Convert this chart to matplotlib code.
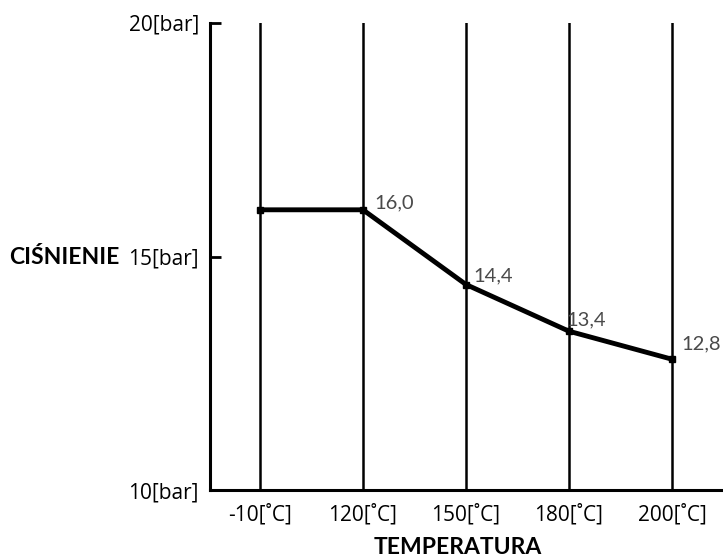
import matplotlib
matplotlib.use("Agg")
import matplotlib.pyplot as plt

categories = ["-10[˚C]", "120[˚C]", "150[˚C]", "180[˚C]", "200[˚C]"]
pressure = [16.0, 16.0, 14.4, 13.4, 12.8]
point_labels = ["", "16,0", "14,4", "13,4", "12,8"]
y_ticks = [10, 15, 20]
y_tick_labels = ["10[bar]", "15[bar]", "20[bar]"]

fig = plt.figure(figsize=(7.23, 5.59), dpi=100)
ax = fig.add_axes([210/723, 1-490/559, 1-210/723, (490-23)/559])

x = list(range(len(categories)))
for xi in x:
    ax.axvline(xi, color="black", lw=1.8, zorder=1)

ax.plot(x, pressure, color="black", lw=3.5, marker="s", ms=5, zorder=3,
        solid_joinstyle="miter")

offsets = [(0, 0), (8, -1), (5, 0), (-2, 2), (7, 5)]
for xi, yi, lab, off in zip(x, pressure, point_labels, offsets):
    if lab:
        ax.annotate(lab, (xi, yi), xytext=off, textcoords="offset points",
                    ha="left", va="bottom", fontsize=14.5, color="#4a4a4a",
                    family="Lato", fontweight="normal")

ax.set_xlim(-0.485, 4.495)
ax.set_ylim(10, 20)
ax.set_xticks(x)
ax.set_xticklabels(categories, family="Open Sans", fontsize=15)
ax.set_yticks(y_ticks)
ax.set_yticklabels(y_tick_labels, family="Open Sans", fontsize=15)
ax.tick_params(axis="x", length=0, pad=10)
ax.tick_params(axis="y", direction="in", length=8, width=2, pad=8)

for s in ["top", "right"]:
    ax.spines[s].set_visible(False)
for s in ["left", "bottom"]:
    ax.spines[s].set_linewidth(2.2)

fig.text(120/723, 1-257/559, "CIŚNIENIE", ha="right", va="center",
         family="Lato", fontweight="bold", fontsize=16.5)
fig.text(458/723, 1-548/559, "TEMPERATURA", ha="center", va="center",
         family="Lato", fontweight="bold", fontsize=16.5)

fig.savefig("out.png", dpi=100)
